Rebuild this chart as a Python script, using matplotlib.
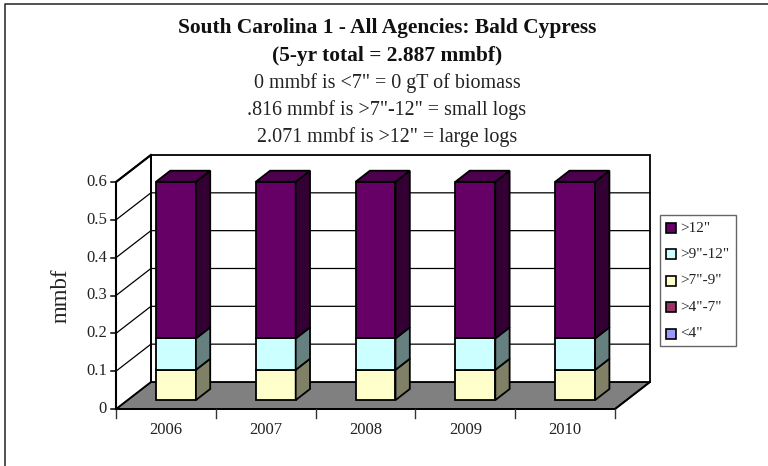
import matplotlib
matplotlib.use("Agg")
from matplotlib import pyplot as plt
from matplotlib.patches import Rectangle

plt.rcParams['font.family'] = ['Liberation Serif', 'DejaVu Serif']

years = ['2006', '2007', '2008', '2009', '2010']
under4 = [0, 0, 0, 0, 0]
from4to7 = [0, 0, 0, 0, 0]
from7to9 = [0.08, 0.08, 0.08, 0.08, 0.08]
from9to12 = [0.083, 0.083, 0.083, 0.083, 0.083]
over12 = [0.414, 0.414, 0.414, 0.414, 0.414]
yticks = [0, 0.1, 0.2, 0.3, 0.4, 0.5, 0.6]
ytick_labels = ['0', '0.1', '0.2', '0.3', '0.4', '0.5', '0.6']

series = [('<4"', under4, '#9999FF'), ('>4"-7"', from4to7, '#993366'), ('>7"-9"', from7to9, '#FFFFCC'),
          ('>9"-12"', from9to12, '#CCFFFF'), ('>12"', over12, '#660066')]


def shade(c, f):
    r, g, b = matplotlib.colors.to_rgb(c)
    return (r * f, g * f, b * f)


W, H = 768, 466
fig = plt.figure(figsize=(W / 100, H / 100), dpi=100)
bg = fig.add_axes([0, 0, 1, 1])
bg.set_xlim(0, W)
bg.set_ylim(H, 0)
bg.axis('off')
# only the top and left edges of the chart frame are in the picture
bg.plot([5, 5, W], [H, 3.5, 3.5], color='#222222', lw=1.1)

# front plane of the 3d box
ax = fig.add_axes([116 / W, 1 - 409 / H, 499 / W, 227 / H])
ax.set_xlim(0, 5)
ax.set_ylim(0, 0.6)
ax.axis('off')

# full depth of the box in data units
DX = 0.35
DY = 0.0714


def pr(x, v, d):
    return x + DX * d, v + DY * d


def face(pts, **kw):
    xs, ys = zip(*[pr(*p) for p in pts])
    ax.fill(xs, ys, clip_on=False, **kw)


nx = len(years)
# floor and walls
face([(0, 0, 0), (nx, 0, 0), (nx, 0, 1), (0, 0, 1)], fc='#808080', ec='black', lw=1.3, zorder=1)
face([(0, 0, 1), (nx, 0, 1), (nx, 0.6, 1), (0, 0.6, 1)], fc='white', ec='black', lw=1.3, zorder=1)
face([(0, 0, 0), (0, 0, 1), (0, 0.6, 1), (0, 0.6, 0)], fc='white', ec='black', lw=1.3, zorder=1)
for t in yticks[1:-1]:
    xs, ys = zip(pr(0, t, 0), pr(0, t, 1), pr(nx, t, 1))
    ax.plot(xs, ys, color='black', lw=0.9, clip_on=False, zorder=2)
xs, ys = zip(pr(0, 0, 0), pr(nx, 0, 0), pr(nx, 0, 1))
ax.plot(xs, ys, color='black', lw=1.3, clip_on=False, zorder=2)
xs, ys = zip(pr(0, 0, 0), pr(0, 0.6, 0), pr(0, 0.6, 1))
ax.plot(xs, ys, color='black', lw=1.5, clip_on=False, zorder=6)

# bars
d0, d1 = 0.33, 0.74
bw = 0.4
off = 0.285
for i in range(nx):
    cum = 0
    for name, vals, col in series:
        v = vals[i]
        if v == 0:
            continue
        x0, x1 = i + off, i + off + bw
        px0, py0 = pr(x0, cum, d0)
        ax.bar(px0, v, width=bw, bottom=py0, align='edge', color=col, edgecolor='black', lw=1.3, zorder=4, clip_on=False)
        face([(x1, cum, d0), (x1, cum, d1), (x1, cum + v, d1), (x1, cum + v, d0)],
             fc=shade(col, 0.5), ec='black', lw=1.3, zorder=4)
        cum += v
    face([(x0, cum, d0), (x1, cum, d0), (x1, cum, d1), (x0, cum, d1)],
         fc=shade(series[-1][2], 0.75), ec='black', lw=1.3, zorder=4)

# ticks and labels
for t, lab in zip(yticks, ytick_labels):
    ax.plot([-0.05, 0], [t, t], color='black', lw=1.1, clip_on=False)
    ax.text(-0.09, t, lab, ha='right', va='center', fontsize=12, color='#222222')
for i in range(nx + 1):
    ax.plot([i, i], [0, -0.025], color='#333333', lw=1, clip_on=False)
for i, y in enumerate(years):
    ax.text(i + 0.5, -0.055, y, ha='center', va='center', fontsize=12, color='#222222')
ax.text(-0.55, 0.3, 'mmbf', rotation=90, ha='center', va='center', fontsize=16.5, color='#222222')

# title
bg.text(387, 28, 'South Carolina 1 - All Agencies: Bald Cypress', ha='center', va='center', fontsize=15.4, fontweight='bold', color='#111111')
bg.text(387, 56, '(5-yr total = 2.887 mmbf)', ha='center', va='center', fontsize=15.4, fontweight='bold', color='#111111')
bg.text(387, 83, '0 mmbf is <7" = 0 gT of biomass', ha='center', va='center', fontsize=14.4, color='#222222')
bg.text(387, 110, '.816 mmbf is >7"-12" = small logs', ha='center', va='center', fontsize=14.4, color='#222222')
bg.text(387, 137, '2.071 mmbf is >12" = large logs', ha='center', va='center', fontsize=14.4, color='#222222')

# legend
bg.add_patch(Rectangle((659.5, 214.5), 76.5, 131.5, fc='white', ec='#666666', lw=1))
for k, (name, vals, col) in enumerate(series[::-1]):
    y = 228 + k * 26.4
    bg.add_patch(Rectangle((666, y - 5), 10, 10, fc=col, ec='black', lw=1.2))
    bg.text(680, y, name, ha='left', va='center', fontsize=11, color='#222222')

fig.savefig('out.png', dpi=100)
